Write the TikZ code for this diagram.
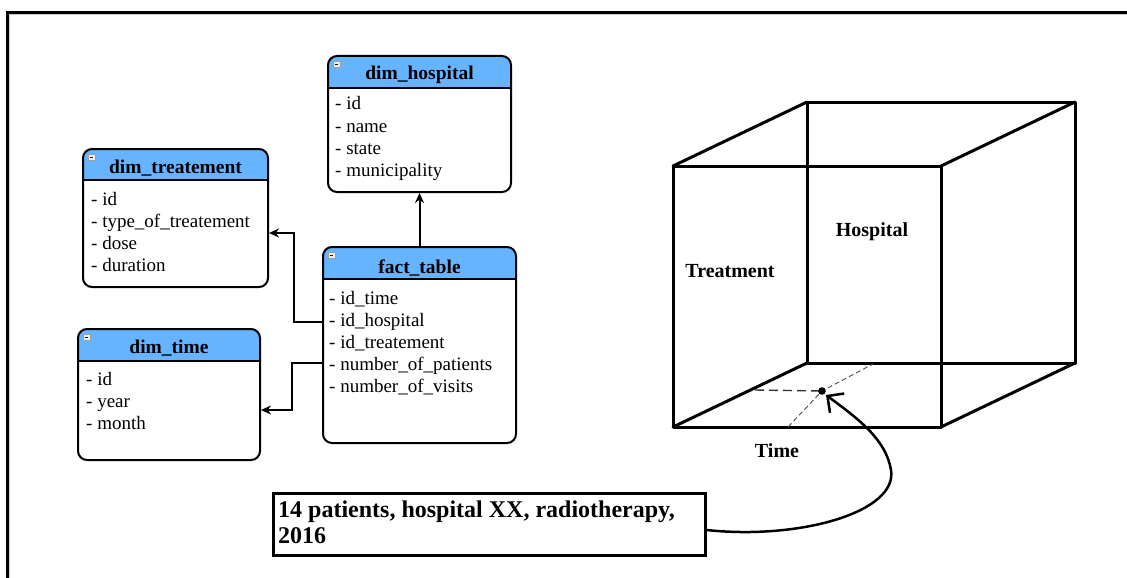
\documentclass[tikz,border=0pt]{standalone}
\usepackage{fontspec}
\setmainfont{Liberation Serif}
\usetikzlibrary{arrows.meta,fit}
\definecolor{headblue}{HTML}{66B3FF}

\tikzset{
  tbox/.style={draw, line width=2pt, rounded corners=9pt, inner sep=0pt},
  tline/.style={line width=2pt},
  ttl/.style={anchor=base, inner sep=0pt, font=\fontsize{19.5}{22}\selectfont\bfseries},
  fld/.style={anchor=base west, inner sep=0pt, font=\fontsize{19}{22}\selectfont},
  link/.style={line width=2pt, -{Stealth[length=10pt,width=9pt]}},
  edge3/.style={line width=3pt, line cap=round, line join=round},
  lbl/.style={inner sep=0pt, font=\fontsize{20}{22}\selectfont\bfseries},
}

% #1 name, #2 left, #3 top, #4 right, #5 bottom, #6 header bottom, #7 title baseline, #8 title
\newcommand\ertable[8]{%
  \begin{scope}
    \clip[rounded corners=9pt] (#2,#3) rectangle (#4,#5);
    \fill[headblue] (#2,#3) rectangle (#4,#6);
  \end{scope}
  \draw[tline] (#2,#6) -- (#4,#6);
  \node[tbox, fit={(#2,#3) (#4,#5)}] (#1) {};
  \filldraw[fill=gray!15, draw=gray!75, line width=0.7pt] (#2+5,#3+5.5) rectangle ++(7,6);
  \draw[line width=1pt, gray!20!black] (#2+6.8,#3+8.5) -- ++(3.4,0);
  \node[ttl] (#1-title) at ({(#2+#4)/2},#7) {#8};
}

\begin{document}
\begin{tikzpicture}[x=1pt,y=-1pt]
\useasboundingbox (0,0) rectangle (1127,578);
\fill[white] (0,0) rectangle (1127,578);

% outer frame (top and left edges)
\draw[gray!40, line width=0.8pt] (9,14.5) -- (1127,14.5);
\draw[gray!40, line width=0.8pt] (9.5,14) -- (9.5,578);
\draw[line width=3pt] (6,12.5) -- (1127,12.5);
\draw[line width=3pt] (7.5,11) -- (7.5,578);

% ---------- star schema ----------
\ertable{hosp}{328}{56}{511}{192}{88}{79}{dim\_hospital}
\node[fld] (h1) at (335,110) {- id};
\node[fld] (h2) at (335,132) {- name};
\node[fld] (h3) at (335,154) {- state};
\node[fld] (h4) at (335,176) {- municipality};

\ertable{treat}{83}{149}{268}{287}{180}{173}{dim\_treatement}
\node[fld] (t1) at (91,205) {- id};
\node[fld] (t2) at (91,227) {- type\_of\_treatement};
\node[fld] (t3) at (91,249) {- dose};
\node[fld] (t4) at (91,271) {- duration};

\ertable{fact}{323}{247}{516}{443}{279}{273}{fact\_table}
\node[fld] (f1) at (329,304) {- id\_time};
\node[fld] (f2) at (329,326) {- id\_hospital};
\node[fld] (f3) at (329,348) {- id\_treatement};
\node[fld] (f4) at (329,370) {- number\_of\_patients};
\node[fld] (f5) at (329,392) {- number\_of\_visits};

\ertable{time}{78}{329}{260}{460}{361}{353}{dim\_time}
\node[fld] (d1) at (86,385) {- id};
\node[fld] (d2) at (86,407) {- year};
\node[fld] (d3) at (86,429) {- month};

% connectors
\coordinate (rowA) at (0,322);
\coordinate (bendA) at (294,233);
\coordinate (rowB) at (0,363);
\coordinate (bendB) at (292,410);
\draw[link] (fact.north) -- (hosp.south);
\draw[link] (fact.west |- rowA) -| (bendA) -- (treat.east |- bendA);
\draw[link] (fact.west |- rowB) -| (bendB) -- (time.east |- bendB);

% ---------- data cube ----------
\coordinate (F1) at (673,166);
\coordinate (F2) at (941,166);
\coordinate (F3) at (941,427);
\coordinate (F4) at (673,427);
\coordinate (B1) at (807,102);
\coordinate (B2) at (1075,102);
\coordinate (B3) at (1075,363);
\coordinate (B4) at (807,363);
\draw[edge3] (B1) -- (B2) -- (B3) -- (B4) -- cycle;
\draw[edge3] (F1) -- (F2) -- (F3) -- (F4) -- cycle;
\draw[edge3] (F1) -- (B1);
\draw[edge3] (F2) -- (B2);
\draw[edge3] (F3) -- (B3);
\draw[edge3] (F4) -- (B4);

\coordinate (cell) at (822,391);
\draw[gray!40!black, line width=1.4pt, dash pattern=on 9pt off 5pt] (755,390) -- (cell);
\draw[gray!60!black, line width=0.9pt, dash pattern=on 5pt off 3pt] (788,427) -- (cell) -- (873,364);
\fill (cell) circle (3.8);

\node[lbl] (ltreat) at (730,271) {Treatment};
\node[lbl] (lhosp) at (872,232) {Hospital};
\node[lbl] (ltime) at (777,451) {Time};

% ---------- annotation ----------
\node[draw, line width=3pt, inner sep=0pt, fit={(273,493) (705,555)}] (cap) {};
\node[anchor=north west, align=left, inner sep=0pt,
      font=\fontsize{24}{26.5}\selectfont\bfseries] (captxt) at (278,500.5)
      {14 patients, hospital XX, radiotherapy,\\2016};

\coordinate (tip) at (826,395);
\draw[line width=2.5pt, -{Straight Barb[length=12pt,width=24pt]}]
  ([yshift=-6pt]cap.east) .. controls (800,540) and (898,512) .. (891,470)
  .. controls (886,440) and (860,420) .. (tip);
\end{tikzpicture}
\end{document}
